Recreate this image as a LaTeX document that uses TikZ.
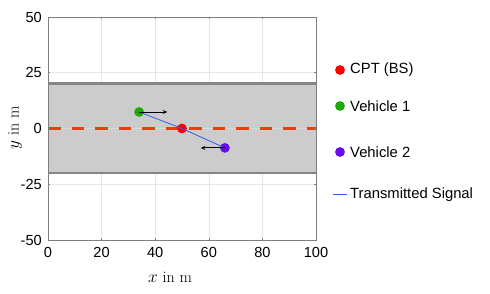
\documentclass[tikz,border=0pt]{standalone}
\usepackage{fontspec}
\setmainfont{Latin Modern Roman}
\newfontfamily\arialf{Liberation Sans}
\usetikzlibrary{arrows.meta}
\definecolor{roadgray}{HTML}{CCCCCC}
\definecolor{edgegray}{HTML}{858585}
\definecolor{gridgray}{HTML}{E6E6E6}
\definecolor{midline}{HTML}{D9D9D9}
\definecolor{axgray}{HTML}{7F7F7F}
\definecolor{dashred}{HTML}{E8400A}
\definecolor{cptred}{HTML}{FF0000}
\definecolor{vgreen}{HTML}{1FA80A}
\definecolor{vpurple}{HTML}{6A0AF0}
\definecolor{sigblue}{HTML}{2F5FE8}
\tikzset{
  ticklab/.style={font=\arialf\fontsize{14.6}{14.6}\selectfont, inner sep=0pt},
  legtext/.style={font=\arialf\fontsize{14.8}{14.8}\selectfont, anchor=west, inner sep=0pt},
  axlab/.style={font=\fontsize{16}{16}\selectfont, inner sep=0pt},
  dot/.style={circle, inner sep=0pt, minimum size=9.8pt},
  movearrow/.style={-{Stealth[length=4.5pt,width=4pt]}, line width=0.9pt, black},
  signal/.style={sigblue, line width=0.8pt},
}
\begin{document}
\begin{tikzpicture}[x=1pt,y=1pt]
\useasboundingbox (0,0) rectangle (490,294);
\fill[white] (0,0) rectangle (490,294);
\begin{scope}[shift={(48,165.5)}, x=2.68pt, y=2.23pt]
  % grid
  \foreach \gx in {20,40,60,80} \draw[gridgray, line width=0.5pt] (\gx,-50) -- (\gx,50);
  \foreach \gy in {-25,25} \draw[gridgray, line width=0.5pt] (0,\gy) -- (100,\gy);
  % road
  \fill[roadgray] (0,-20) rectangle (100,20);
  \draw[midline, line width=0.5pt] (0,0) -- (100,0);
  \draw[edgegray, line width=2.8pt] (0,20) -- (100,20);
  \draw[edgegray, line width=2.8pt] (0,-20) -- (100,-20);
  \draw[dashred, line width=2.8pt, dash pattern=on 12.5pt off 11pt] (0,0) -- (100,0);
  % axes box
  \draw[axgray, line width=0.6pt] (0,-50) rectangle (100,50);
  \foreach \gx in {20,40,60,80} {
    \draw[axgray, line width=0.5pt] (\gx,-50) -- ++(0,1.1);
    \draw[axgray, line width=0.5pt] (\gx,50) -- ++(0,-1.1);
  }
  \foreach \gy in {-25,0,25} {
    \draw[axgray, line width=0.5pt] (0,\gy) -- ++(0.9,0);
    \draw[axgray, line width=0.5pt] (100,\gy) -- ++(-0.9,0);
  }
  % vehicles
  \node[dot, fill=vgreen] (v1) at (34,7.4) {};
  \node[dot, fill=cptred] (cpt) at (50,0) {};
  \node[dot, fill=vpurple] (v2) at (66,-8.7) {};
  \coordinate (v1a) at (44.5,7.4);
  \coordinate (v2a) at (57,-8.7);
  \draw[signal] (v1.center) -- (cpt.center) -- (v2.center);
  \draw[movearrow] (v1.center) -- (v1a);
  \draw[movearrow] (v2.center) -- (v2a);
\end{scope}
% tick labels (absolute px coordinates, y up)
\foreach \gx in {0,20,40,60,80,100}
  \node[ticklab, anchor=base] (xt\gx) at ({48+2.68*\gx},36) {\gx};
\node[ticklab, anchor=east] (yt50) at (42,277) {50};
\node[ticklab, anchor=east] (yt25) at (42,221.3) {25};
\node[ticklab, anchor=east] (yt0) at (42,165.5) {0};
\node[ticklab, anchor=east] (ytm25) at (42,109.7) {-25};
\node[ticklab, anchor=east] (ytm50) at (42,54) {-50};
% axis labels
\node[axlab, anchor=base] (xlab) at (170,11) {$x$ in m};
\node[axlab, rotate=90, anchor=base] (ylab) at (18.5,166) {$y$ in m};
% legend
\node[dot, fill=cptred] (lcpt) at (340,224) {};
\node[legtext] (tcpt) at (350,224) {CPT (BS)};
\node[dot, fill=vgreen] (lv1) at (340,188) {};
\node[legtext] (tv1) at (350,188) {Vehicle 1};
\node[dot, fill=vpurple] (lv2) at (340,142) {};
\node[legtext] (tv2) at (350,142) {Vehicle 2};
\coordinate (ls1) at (333,99);
\coordinate (ls2) at (347,99);
\draw[signal, line width=1pt] (ls1) -- (ls2);
\node[legtext] (tsig) at (350,99) {Transmitted Signal};
\end{tikzpicture}
\end{document}
